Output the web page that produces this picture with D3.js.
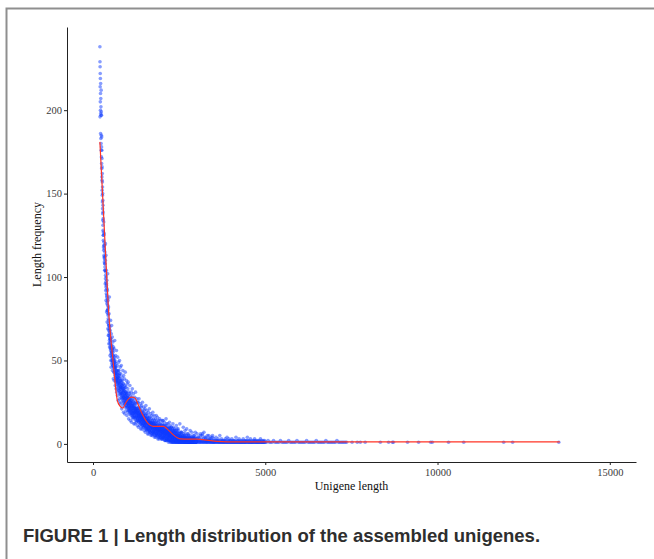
<!DOCTYPE html>
<html>
<head>
<meta charset="utf-8">
<script src="https://cdn.jsdelivr.net/npm/d3@7"></script>
<style>
  body { margin: 0; background: #fff; }
  svg { display: block; }
  .tick text { font-family: "Liberation Serif", "Times New Roman", serif; font-size: 10.5px; fill: #3a3a3a; }
  .tick line, .domain { stroke: #222; }
  .axis-label { font-family: "Liberation Serif", "Times New Roman", serif; font-size: 12px; fill: #111; text-anchor: middle; }
  .caption { font-family: "Liberation Sans", Arial, sans-serif; font-weight: bold; font-size: 18.5px; fill: #2e2e2e; }
</style>
</head>
<body>
<div id="wrapper"></div>
<script>
// scatter: each run starts at a length and steps by a fixed amount, freqs
const scatterStart = [200, 300, 700, 1500, 2500, 3000, 5000, 302, 702, 1502, 2502, 2020]
const scatterStep = [2, 5, 5, 5, 5, 10, 40, 5, 5, 5, 5, 50]
const scatterFreq = [
  // 200 - 298
  "238 229 196 226 214 222 205 219 200 210 186 216 198 207 183 202 197 180 212 176 " +
  "199 185 172 197 178 168 184 165 176 160 171 158 166 152 162 149 157 145 154 141 " +
  "150 138 146 134 143 131 139 128 135 125",
  // 300 - 695
  "127 118 133 121 112 126 109 119 104 115 108 96 120 101 92 113 86 104 95 79 " +
  "98 84 73 92 80 102 69 86 77 65 82 71 60 78 66 88 58 70 63 53 " +
  "68 57 74 50 62 46 66 55 71 48 59 52 64 44 56 61 47 53 39 58 " +
  "50 43 57 38 52 46 62 41 49 35 45 53 37 48 33 42 56 39 31 44",
  // 700 - 1495
  "38 47 29 52 35 43 26 40 49 32 36 44 27 41 50 31 39 24 46 34 " +
  "30 42 25 37 47 28 35 21 40 33 29 38 23 44 31 26 36 19 41 28 " +
  "33 24 39 27 18 35 29 43 22 31 25 34 20 30 38 23 27 17 36 26 " +
  "28 19 33 24 37 21 26 15 31 23 22 30 18 27 35 20 25 14 29 24 " +
  "26 17 31 21 13 28 23 19 33 16 20 27 15 24 30 18 22 12 26 19 " +
  "23 16 28 19 12 25 21 31 14 20 18 24 13 21 27 16 19 11 25 17 " +
  "20 14 25 17 10 22 18 27 13 16 15 21 11 19 24 14 17 9 22 16 " +
  "18 12 23 15 9 20 16 25 11 14 14 19 10 17 22 12 15 8 20 13",
  // 1500 - 2495
  "16 11 21 13 7 18 14 23 9 12 13 18 8 15 20 10 14 6 17 12 " +
  "14 9 19 11 6 16 12 21 8 13 11 16 7 13 18 9 12 5 15 10 " +
  "12 8 17 10 5 14 11 19 7 13 10 15 6 12 17 8 11 4 14 9 " +
  "11 7 15 9 4 13 10 17 6 12 9 14 5 11 16 7 10 3 13 8 " +
  "10 6 14 8 3 12 9 15 5 11 8 12 4 10 14 6 9 3 11 7 " +
  "9 5 12 7 3 11 8 14 4 10 7 11 4 9 13 5 8 2 10 6 " +
  "8 4 11 6 2 10 7 12 3 9 6 10 3 8 12 4 7 2 9 5 " +
  "7 3 10 5 2 9 6 11 3 8 5 9 2 7 10 4 6 1 8 4 " +
  "6 3 9 4 1 8 5 10 2 7 4 8 2 6 9 3 5 1 7 4 " +
  "5 2 8 3 1 7 4 9 2 6 4 7 1 5 8 3 4 1 6 3",
  // 2500 - 2995
  "4 2 6 3 1 5 3 7 2 4 3 6 1 4 7 2 3 1 5 3 " +
  "4 2 5 3 1 6 2 4 1 3 3 5 1 4 6 2 3 1 4 2 " +
  "3 1 5 2 1 4 3 6 1 2 2 4 1 3 5 1 3 2 4 1 " +
  "3 1 4 2 1 5 2 3 1 2 2 4 1 3 1 2 4 1 3 2 " +
  "3 1 2 4 1 2 3 1 5 2 2 3 1 2 4 1 2 3 1 2",
  // 3000 - 4990
  "2 1 3 2 1 4 2 1 3 1 2 1 5 2 1 3 1 2 6 1 " +
  "3 1 2 1 4 2 1 3 1 2 1 2 1 3 1 2 5 1 2 1 " +
  "2 1 3 1 2 1 4 1 2 1 1 3 1 2 1 1 2 4 1 2 " +
  "1 2 1 3 1 2 1 1 5 1 2 1 1 3 1 2 1 1 2 1 " +
  "1 2 1 1 3 1 2 1 1 4 1 1 2 1 3 1 1 2 1 1 " +
  "2 1 1 3 1 1 2 1 1 2 1 1 2 1 1 4 1 1 2 1 " +
  "1 2 1 1 3 1 1 1 2 1 1 1 2 1 1 1 3 1 1 2 " +
  "1 1 1 2 1 1 2 1 4 1 2 1 1 1 2 1 1 3 1 1 " +
  "1 1 2 1 1 1 2 1 1 3 1 2 1 1 1 2 1 1 1 2 " +
  "1 1 1 2 1 1 3 1 1 1 2 1 1 1 2 1 1 1 2 1",
  // 5000 - 7360
  "1 1 2 1 1 1 2 1 1 1 1 2 1 1 1 1 1 2 1 1 " +
  "1 1 1 2 1 1 1 1 1 1 2 1 1 1 1 1 1 2 1 1 " +
  "1 1 1 1 2 1 1 1 1 1 1 1 2 1 1 1 1 1 1 1",
  // 302 - 697 (core)
  "122 125 116 119 113 117 111 108 112 106 104 110 99 103 97 94 100 90 96 88 " +
  "89 93 85 80 87 83 78 81 75 72 74 68 71 65 69 62 67 64 60 63 " +
  "61 58 56 63 54 59 52 57 55 50 54 50 57 49 53 47 51 55 48 46 " +
  "48 51 45 49 43 47 44 50 42 46 43 40 46 41 38 44 39 42 37 40",
  // 702 - 1497 (core)
  "39 36 42 33 40 37 44 34 38 41 35 39 32 37 42 30 36 33 38 34 " +
  "33 29 36 31 38 27 34 30 35 32 30 34 27 31 36 28 32 25 33 29 " +
  "28 32 26 30 34 24 29 27 31 25 27 23 30 26 31 22 28 25 29 24 " +
  "25 22 28 24 29 20 26 23 27 21 24 20 27 22 26 19 25 21 23 18 " +
  "22 25 19 23 20 26 18 22 24 17 21 18 23 20 25 16 22 19 21 17 " +
  "20 17 22 18 24 15 21 19 16 20 19 16 21 17 22 14 19 18 15 20 " +
  "18 15 20 16 21 13 18 17 14 19 17 14 19 15 20 12 17 16 13 18 " +
  "16 13 18 14 19 11 16 15 12 17 15 12 17 13 18 10 15 14 11 16",
  // 1502 - 2497 (core)
  "14 11 16 12 17 10 14 13 9 15 13 10 15 11 16 9 13 12 8 14 " +
  "12 9 14 10 15 8 12 11 7 13 11 9 13 10 14 7 11 10 6 12 " +
  "11 8 12 9 13 6 10 9 7 11 10 7 12 8 13 6 10 9 5 11 " +
  "9 7 11 8 12 5 9 8 6 10 9 6 10 7 11 5 8 9 4 10 " +
  "8 6 10 7 11 4 8 7 5 9 8 5 9 6 10 4 7 8 3 9 " +
  "7 5 9 6 10 3 7 6 4 8 7 4 8 5 9 3 6 7 2 8 " +
  "6 4 8 5 9 2 6 5 3 7 6 3 7 4 8 2 5 6 1 7 " +
  "5 3 7 4 8 2 5 4 1 6 5 2 6 3 7 1 4 5 2 6 " +
  "4 2 6 3 7 1 4 3 1 5 4 1 5 3 6 2 3 4 1 5 " +
  "3 1 5 2 6 1 3 4 2 4 3 1 4 2 5 1 3 2 1 4",
  // 2502 - 2997 (core)
  "3 1 4 2 5 1 3 2 1 4 3 1 4 2 1 3 2 1 4 2 " +
  "2 1 3 1 4 2 1 3 1 2 2 1 3 2 1 4 1 2 1 3 " +
  "2 1 3 1 2 1 3 1 2 1 2 1 1 3 1 2 1 1 2 1 " +
  "1 2 1 3 1 1 2 1 1 2 1 1 2 1 3 1 1 2 1 1 " +
  "2 1 1 2 1 1 3 1 1 2 1 1 2 1 1 2 1 1 1 2",
  // 2020 - 3470 (upper outliers)
  "14 11 15 9 13 10 12 8 11 9 12 7 10 8 9 6 8 7 5 7 " +
  "6 4 6 5 7 4 5 3 4 5",
]
const tailLength = [7520, 7670, 7760, 7900, 8340, 8580, 8690, 8720, 9130, 9450, 9800, 9850, 10320, 10760, 11920, 12180, 13520]
const tailFreq = [1, 1, 1, 1, 1, 1, 1, 1, 1, 1, 1, 1, 1, 1, 1, 1, 1]

// red trend line
const trendLength = [200, 330, 445, 590, 706, 790, 863, 950, 1030, 1125, 1220, 1300, 1450, 1610, 1750, 1900, 2045, 2150, 2300, 2530, 2800, 3015, 3300, 3596, 4200, 13550]
const trendFreq = [181, 128, 82, 48, 26, 22.5, 21.5, 24.5, 27, 28, 27.5, 24, 17, 12, 10.5, 10.5, 10.5, 9, 6, 3, 2.8, 2.8, 2.3, 1.5, 1.2, 1.2]

const xTicks = [0, 5000, 10000, 15000]
const yTicks = [0, 50, 100, 150, 200]

function drawScatter() {
  // build point table from the runs
  const dataset = []
  scatterFreq.forEach((run, i) => {
    run.trim().split(/\s+/).forEach((f, j) => {
      dataset.push({ length: scatterStart[i] + j * scatterStep[i], freq: +f })
    })
  })
  tailLength.forEach((l, i) => dataset.push({ length: l, freq: tailFreq[i] }))

  const trend = trendLength.map((l, i) => ({ length: l, freq: trendFreq[i] }))

  const xAccessor = d => d.length
  const yAccessor = d => d.freq

  let dimensions = {
    width: 654,
    height: 559,
    margin: {
      top: 27,
      right: 18,
      bottom: 97,
      left: 67,
    },
  }
  dimensions.boundedWidth = dimensions.width - dimensions.margin.left - dimensions.margin.right
  dimensions.boundedHeight = dimensions.height - dimensions.margin.top - dimensions.margin.bottom

  const wrapper = d3.select("#wrapper")
    .append("svg")
      .attr("width", dimensions.width)
      .attr("height", dimensions.height)

  // figure frame
  wrapper.append("path")
      .attr("d", `M6.5,${dimensions.height} V8.5 H${dimensions.width}`)
      .attr("fill", "none")
      .attr("stroke", "#8f8f8f")
      .attr("stroke-width", 2)

  const bounds = wrapper.append("g")
    .style("transform", `translate(${dimensions.margin.left}px, ${dimensions.margin.top}px)`)

  // scales (ggplot-style 5% expansion)
  const xScale = d3.scaleLinear()
    .domain([-755, 15761])
    .range([0, dimensions.boundedWidth])

  const yScale = d3.scaleLinear()
    .domain([-10.85, 249.85])
    .range([dimensions.boundedHeight, 0])

  bounds.append("g").selectAll("circle")
    .data(dataset)
    .join("circle")
      .attr("cx", d => xScale(xAccessor(d)))
      .attr("cy", d => yScale(yAccessor(d)))
      .attr("r", 1.8)
      .attr("fill", "#0f3cff")
      .attr("fill-opacity", 0.5)

  const lineGenerator = d3.line()
    .x(d => xScale(xAccessor(d)))
    .y(d => yScale(yAccessor(d)))
    .curve(d3.curveMonotoneX)

  bounds.append("path")
      .datum(trend)
      .attr("d", lineGenerator)
      .attr("fill", "none")
      .attr("stroke", "#ff3526")
      .attr("stroke-width", 1.2)

  // axes
  const xAxisGenerator = d3.axisBottom()
    .scale(xScale)
    .tickValues(xTicks)
    .tickFormat(d3.format("d"))
    .tickSize(3)
    .tickSizeOuter(0)
    .tickPadding(4)

  const xAxis = bounds.append("g")
    .call(xAxisGenerator)
      .style("transform", `translateY(${dimensions.boundedHeight}px)`)

  xAxis.append("text")
      .attr("class", "axis-label")
      .attr("x", dimensions.boundedWidth / 2)
      .attr("y", 28)
      .text("Unigene length")

  const yAxisGenerator = d3.axisLeft()
    .scale(yScale)
    .tickValues(yTicks)
    .tickSize(3)
    .tickSizeOuter(0)
    .tickPadding(2)

  const yAxis = bounds.append("g")
      .call(yAxisGenerator)

  yAxis.append("text")
      .attr("class", "axis-label")
      .attr("transform", "rotate(-90)")
      .attr("x", -dimensions.boundedHeight / 2)
      .attr("y", -26)
      .text("Length frequency")

  bounds.selectAll(".domain").attr("stroke-width", 1)

  // caption
  wrapper.append("text")
      .attr("class", "caption")
      .attr("x", 23)
      .attr("y", 542)
      .text("FIGURE 1 | Length distribution of the assembled unigenes.")
}
drawScatter()
</script>
</body>
</html>
